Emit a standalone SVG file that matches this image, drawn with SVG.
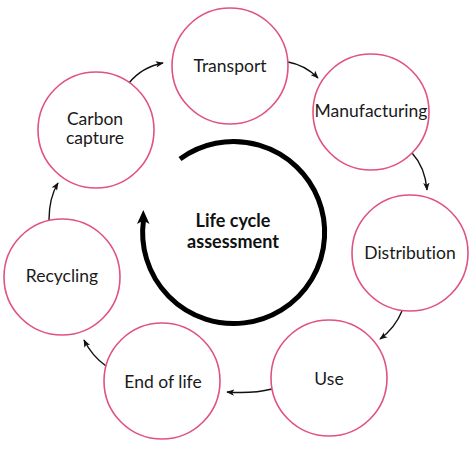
<svg xmlns="http://www.w3.org/2000/svg" width="472" height="450" viewBox="0 0 472 450">
<defs>
<style>
.node circle{fill:#fff;stroke:#e0527f;stroke-width:1.6}
.node text{font-family:Lato,"Open Sans","Liberation Sans",sans-serif;font-size:17.5px;fill:#1a1a1a;text-anchor:middle;font-variant-ligatures:none}
.conn path{fill:none;stroke:#111;stroke-width:1.4}
.title{font-family:Lato,"Open Sans","Liberation Sans",sans-serif;font-size:18px;font-weight:bold;fill:#111;text-anchor:middle}
</style>
<marker id="ah" viewBox="0 0 10 8" refX="9" refY="4" markerWidth="8" markerHeight="6.5" markerUnits="userSpaceOnUse" orient="auto">
<path d="M0,0 L10,4 L0,8 L2.5,4 z" fill="#111"/>
</marker>
</defs>
<rect width="472" height="450" fill="#fff"/>
<g id="cycle">
<path d="M180,159 A91,91 0 1 1 143.5,220" fill="none" stroke="#000" stroke-width="5"/>
<path d="M143.3,210 L149.5,224 L143.3,220.5 L137,224 z" fill="#000"/>
<text class="title" x="233" y="227">Life cycle</text>
<text class="title" x="233" y="248">assessment</text>
</g>
<g id="connectors" class="conn">
<path d="M129,83 Q142,67 163,63" marker-end="url(#ah)"/>
<path d="M288,62 Q305,65 318,78" marker-end="url(#ah)"/>
<path d="M412,153 Q425,167 427,190" marker-end="url(#ah)"/>
<path d="M402,311 Q395,328 380,339" marker-end="url(#ah)"/>
<path d="M272,389 Q252,394 227,392" marker-end="url(#ah)"/>
<path d="M106,366 Q92,356 84,340" marker-end="url(#ah)"/>
<path d="M49,220 Q49,198 58,183" marker-end="url(#ah)"/>
</g>
<g id="transport" class="node"><circle cx="230" cy="66" r="58"/><text x="230" y="72">Transport</text></g>
<g id="manufacturing" class="node"><circle cx="371" cy="112" r="58"/><text x="371" y="117">Manufacturing</text></g>
<g id="distribution" class="node"><circle cx="410" cy="253" r="58"/><text x="410" y="259">Distribution</text></g>
<g id="use" class="node"><circle cx="329" cy="378" r="58"/><text x="329" y="385">Use</text></g>
<g id="end-of-life" class="node"><circle cx="162" cy="381" r="58"/><text x="163" y="388">End of life</text></g>
<g id="recycling" class="node"><circle cx="62" cy="277" r="58"/><text x="62" y="282">Recycling</text></g>
<g id="carbon-capture" class="node"><circle cx="96" cy="130" r="58"/><text x="95" y="125">Carbon</text><text x="95" y="144">capture</text></g>
</svg>
